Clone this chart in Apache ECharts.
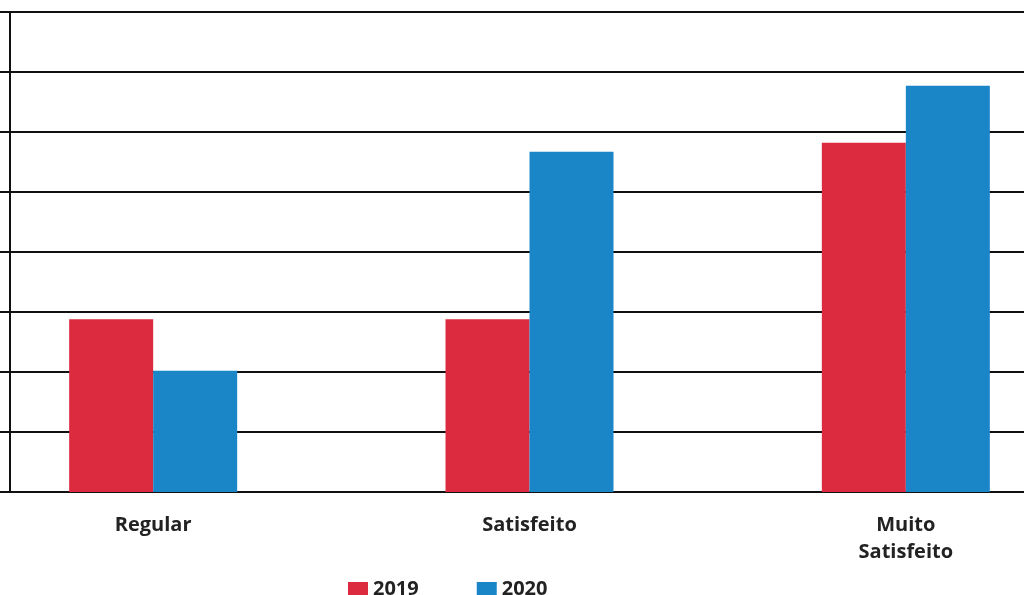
<!DOCTYPE html>
<html><head><meta charset="utf-8">
<script src="https://cdn.jsdelivr.net/npm/echarts@6/dist/echarts.min.js"></script>
<style>html,body{margin:0;padding:0;background:#fff}#c{width:1024px;height:595px}</style>
</head><body><div id="c"></div>
<script>
const categories = ['Regular', 'Satisfeito', 'Muito\nSatisfeito'];
const seriesNames = ['2019', '2020'];
const values2019 = [2.88, 2.88, 5.82];
const values2020 = [2.02, 5.67, 6.77];

const chart = echarts.init(document.getElementById('c'));
const labelFont = { fontFamily: 'Open Sans', fontWeight: 'bold', fontSize: 20, color: '#222' };
chart.setOption({
  animation: false,
  grid: { left: -35, right: -70, top: 12, bottom: 103, containLabel: false, outerBoundsMode: 'none' },
  legend: {
    top: 574, left: 343, itemWidth: 20, itemHeight: 14, itemGap: 58,
    icon: 'rect', data: seriesNames,
    textStyle: { fontFamily: 'Open Sans', fontWeight: 'bold', fontSize: 20, color: '#222' }
  },
  xAxis: {
    type: 'category', data: categories,
    axisLine: { show: true, lineStyle: { color: '#111', width: 2 } },
    axisTick: { show: false },
    axisLabel: Object.assign({ margin: 20, lineHeight: 27 }, labelFont)
  },
  yAxis: {
    type: 'value', min: 0, max: 8, interval: 1, offset: -45,
    axisLine: { show: true, lineStyle: { color: '#111', width: 2 } },
    axisTick: { show: false },
    axisLabel: { show: false },
    splitLine: { show: true, lineStyle: { color: '#111', width: 2 } }
  },
  series: [
    { name: seriesNames[0], type: 'bar', data: values2019, barWidth: 84, barGap: '0%', itemStyle: { color: '#DC2B3E' } },
    { name: seriesNames[1], type: 'bar', data: values2020, barWidth: 84, barGap: '0%', itemStyle: { color: '#1A86C8' } }
  ]
});
</script></body></html>
